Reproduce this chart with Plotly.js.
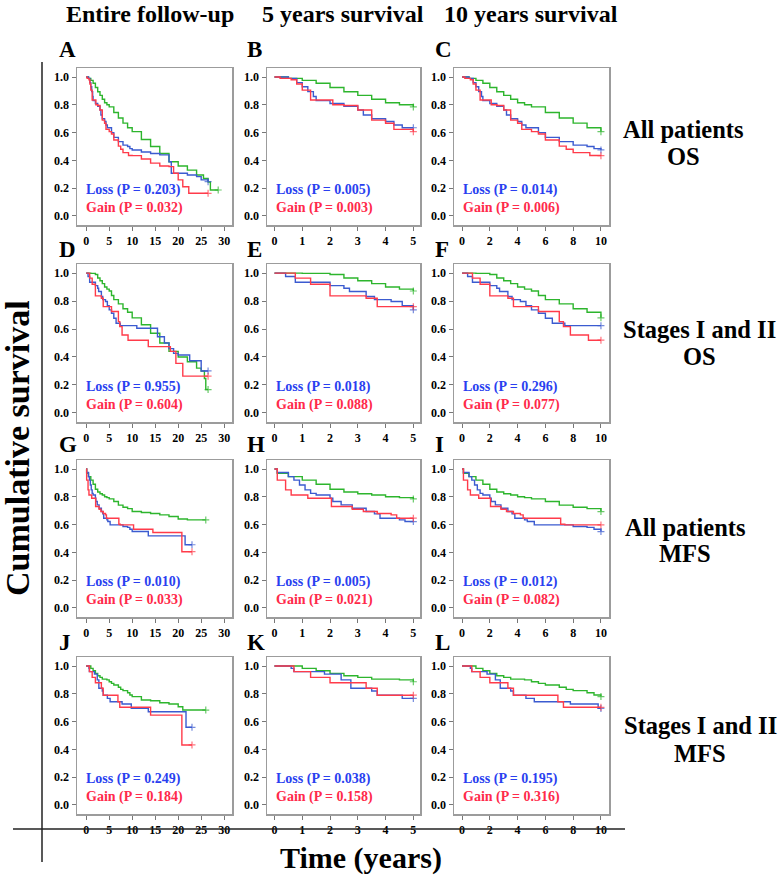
<!DOCTYPE html>
<html>
<head>
<meta charset="utf-8">
<script src="https://cdn.plot.ly/plotly-3.0.1.min.js"></script>
<style>
  body { margin: 0; background: #fff; }
  #chart { width: 778px; height: 876px; }
</style>
</head>
<body>
<div id="chart"></div>
<script>
/* ---- Kaplan-Meier curves (time in years, cumulative survival) ---- */

// All patients, OS
var osAllNeuT  = [0,0.5,1,1.5,2,2.5,3,3.5,4,4.5,5,6,7,8,9,10,12,14,16,18,20,22,24,25.5,26.5,27,28.7];
var osAllNeuS  = [1,0.99,0.976,0.955,0.925,0.894,0.868,0.84,0.815,0.80,0.785,0.745,0.705,0.668,0.635,0.607,0.55,0.50,0.45,0.39,0.36,0.33,0.295,0.27,0.245,0.187,0.187];
var osAllLossT = [0,0.3,0.5,0.8,1,1.2,1.4,1.5,2,2.5,3,3.2,3.5,4,4.3,4.6,5,5.5,6,7,8,9,9.5,10,12,14,16,18,18.5,22,24,25,26.5];
var osAllLossS = [1,1,0.99,0.96,0.93,0.895,0.86,0.83,0.81,0.79,0.763,0.727,0.70,0.68,0.655,0.635,0.635,0.60,0.566,0.535,0.51,0.50,0.485,0.475,0.46,0.45,0.44,0.39,0.307,0.295,0.283,0.26,0.247];
var osAllGainT = [0,0.2,0.6,0.8,1,1.3,2,2.1,2.5,3,3.5,4,4.3,5,5.5,6,7,7.5,8,9.2,10,12,14,16,18,19,20,21,22.3,26.5];
var osAllGainS = [1,0.99,0.98,0.95,0.906,0.835,0.835,0.80,0.795,0.763,0.69,0.667,0.623,0.607,0.59,0.547,0.503,0.48,0.456,0.435,0.434,0.41,0.38,0.36,0.355,0.307,0.26,0.21,0.163,0.163];

// Stages I and II, OS
var osStgNeuT  = [0,1,2,2.5,3,3.5,4,4.5,5,5.5,6,7,8,9,10,12,14,16,18,20,22,24,25,25.7,26,26.5];
var osStgNeuS  = [1,0.998,0.99,0.965,0.945,0.925,0.9,0.885,0.872,0.84,0.81,0.78,0.745,0.72,0.68,0.63,0.57,0.50,0.44,0.40,0.366,0.32,0.30,0.246,0.167,0.167];
var osStgLossT = [0,0.4,0.75,2,2.5,2.7,3.3,3.6,4.2,4.6,5,5.5,6,6.5,7.4,10,11,15,15.5,17,18,19,20,22.5,25,26.5];
var osStgLossS = [1,0.976,0.935,0.91,0.892,0.868,0.833,0.81,0.797,0.766,0.737,0.713,0.677,0.641,0.624,0.624,0.605,0.605,0.545,0.50,0.46,0.426,0.414,0.373,0.30,0.30];
var osStgGainT = [0,0.75,1.3,2,3.3,3.7,5,5.5,7,7.3,7.8,9.1,10,13.5,18.3,19.5,21,26.5];
var osStgGainS = [1,0.964,0.92,0.837,0.82,0.76,0.76,0.725,0.653,0.617,0.557,0.52,0.52,0.474,0.44,0.354,0.263,0.263];

// All patients, MFS
var mfsAllNeuT  = [0,0.1,0.5,1,1.5,2,2.5,3,3.5,4,4.5,5,6,7,8,9,10,12,14,16,18,20,22,26];
var mfsAllNeuS  = [1,0.97,0.945,0.92,0.89,0.854,0.835,0.822,0.813,0.80,0.794,0.785,0.766,0.74,0.725,0.715,0.694,0.687,0.68,0.67,0.658,0.64,0.634,0.634];
var mfsAllLossT = [0,0.1,0.5,0.7,0.9,1.1,1.3,1.5,2,2.1,2.4,2.8,3.3,3.6,3.8,4.5,4.7,5,5.2,8,9,9.5,10,13.5,21.5,23];
var mfsAllLossS = [1,0.975,0.945,0.92,0.885,0.85,0.825,0.813,0.79,0.766,0.742,0.718,0.694,0.677,0.646,0.634,0.622,0.622,0.598,0.586,0.58,0.567,0.55,0.519,0.455,0.455];
var mfsAllGainT = [0,0.1,0.4,0.6,1.2,2.05,2.8,3.2,3.7,4.2,4.4,5,7.1,7.4,10,10.3,14.5,20.8,23];
var mfsAllGainS = [1,0.92,0.85,0.813,0.79,0.73,0.71,0.694,0.68,0.67,0.646,0.646,0.603,0.598,0.598,0.567,0.543,0.405,0.405];

// Stages I and II, MFS
var mfsStgNeuT  = [0,0.7,1,1.5,2,2.5,3,3.5,4.5,5,5.5,6,7,7.5,8,9,9.5,10,12,14,16,18,20,21,26];
var mfsStgNeuS  = [1,1,0.983,0.966,0.947,0.93,0.918,0.906,0.9,0.887,0.875,0.863,0.847,0.832,0.823,0.808,0.791,0.78,0.755,0.75,0.736,0.727,0.707,0.683,0.683];
var mfsStgLossT = [0,0.6,0.7,1.8,2.4,2.75,3.5,3.7,4.6,5,5.2,7.8,9.8,10,13.5,21.7,23];
var mfsStgLossS = [1,0.983,0.96,0.942,0.9,0.84,0.82,0.79,0.767,0.767,0.743,0.727,0.695,0.695,0.671,0.559,0.559];
var mfsStgGainT = [0,0.7,1.3,2,3.3,3.7,5,6.9,7.3,10,14,20.8,23];
var mfsStgGainS = [1,0.96,0.918,0.88,0.84,0.79,0.79,0.743,0.703,0.703,0.647,0.432,0.432];

// P values, panels A..L
var panelLetters = ['A','B','C','D','E','F','G','H','I','J','K','L'];
var lossP = ['0.203','0.005','0.014','0.955','0.018','0.296','0.010','0.005','0.012','0.249','0.038','0.195'];
var gainP = ['0.032','0.003','0.006','0.604','0.088','0.077','0.033','0.021','0.082','0.184','0.158','0.316'];

var colTitles = ['Entire follow-up', '5 years survival', '10 years survival'];
var rowTitles = [['All patients','OS'], ['Stages I and II','OS'], ['All patients','MFS'], ['Stages I and II','MFS']];
var survTicks = [0, 0.2, 0.4, 0.6, 0.8, 1.0];
var timeTicks = [[0,5,10,15,20,25,30], [0,1,2,3,4,5], [0,2,4,6,8,10]];

/* ---- layout constants (pixels) ---- */
var W = 778, H = 876;
var FONT = 'Liberation Serif, Times New Roman, serif';
var colPx = [[77,232],[267,420],[454,609]];
var rowPx = [[68,225],[264,422],[460,617],[657,814]];
var colRange = [[-2,31.7],[-0.27,5.24],[-0.58,10.58]];
var colLimit = [1000,5,10];
var colTitleX = [150,343,531];
var letterX = [57,245,433];
var letterY = [50,250,445,642];
var rowTitleX = [683,699,685,700];
var rowTitleY = [[130,157],[329,357],[527,553],[725,753]];

var C_NEU = '#2db52d', C_LOSS = '#3b5bd0', C_GAIN = '#ff3b4a';
var T_LOSS = '#2a3ff0', T_GAIN = '#ff2a4a';

var rows = [
  [[osAllNeuT,osAllNeuS],[osAllLossT,osAllLossS],[osAllGainT,osAllGainS]],
  [[osStgNeuT,osStgNeuS],[osStgLossT,osStgLossS],[osStgGainT,osStgGainS]],
  [[mfsAllNeuT,mfsAllNeuS],[mfsAllLossT,mfsAllLossS],[mfsAllGainT,mfsAllGainS]],
  [[mfsStgNeuT,mfsStgNeuS],[mfsStgLossT,mfsStgLossS],[mfsStgGainT,mfsStgGainS]]
];
var lineColors = [C_NEU, C_LOSS, C_GAIN];

function px2x(p) { return p / W; }
function px2y(p) { return 1 - p / H; }
function boldLabels(vals, digits) {
  return vals.map(function(v) { return '<b>' + (digits ? v.toFixed(digits) : String(v)) + '</b>'; });
}

var traces = [];
var layout = {
  width: W, height: H,
  margin: { l: 0, r: 0, t: 0, b: 0 },
  paper_bgcolor: '#fff', plot_bgcolor: '#fff',
  showlegend: false,
  annotations: [],
  shapes: []
};

var tickFont = { family: FONT, size: 12, color: '#000' };

for (var r = 0; r < 4; r++) {
  for (var c = 0; c < 3; c++) {
    var idx = r * 3 + c + 1;
    var xn = 'x' + (idx > 1 ? idx : '');
    var yn = 'y' + (idx > 1 ? idx : '');
    var lim = colLimit[c];

    // green first, then blue, red on top
    rows[r].forEach(function(series, k) {
      var t = [], s = [];
      for (var i = 0; i < series[0].length; i++) {
        if (series[0][i] <= lim) { t.push(series[0][i]); s.push(series[1][i]); }
      }
      // censor cross only at the end of each curve
      var sizes = t.map(function(_, i) { return i === t.length - 1 ? 5 : 0; });
      traces.push({
        x: t, y: s, xaxis: xn, yaxis: yn,
        type: 'scatter', mode: 'lines+markers',
        line: { color: lineColors[k], width: 1.4, shape: 'hv' },
        marker: { symbol: 'cross-thin', size: sizes, line: { color: lineColors[k], width: 1.2 } },
        hoverinfo: 'skip'
      });
    });

    layout['xaxis' + (idx > 1 ? idx : '')] = {
      domain: [px2x(colPx[c][0]), px2x(colPx[c][1])],
      range: colRange[c], anchor: yn,
      tickvals: timeTicks[c], ticktext: boldLabels(timeTicks[c], 0),
      showline: true, mirror: true, linecolor: '#9c9c9c', linewidth: 1.5,
      ticks: 'outside', ticklen: 4, tickwidth: 1, tickcolor: '#777',
      showgrid: false, zeroline: false, tickfont: tickFont
    };
    layout['yaxis' + (idx > 1 ? idx : '')] = {
      domain: [px2y(rowPx[r][1]), px2y(rowPx[r][0])],
      range: [-0.065, 1.065], anchor: xn,
      tickvals: survTicks, ticktext: boldLabels(survTicks, 1),
      showline: true, mirror: true, linecolor: '#9c9c9c', linewidth: 1.5,
      ticks: 'outside', ticklen: 4, tickwidth: 1, tickcolor: '#777',
      showgrid: false, zeroline: false, tickfont: tickFont
    };

    layout.annotations.push({
      xref: xn + ' domain', yref: yn, x: 0.045, y: 0.185, xanchor: 'left', yanchor: 'middle',
      text: '<b>Loss (P = ' + lossP[idx - 1] + ')</b>', showarrow: false,
      font: { family: FONT, size: 14, color: T_LOSS }
    });
    layout.annotations.push({
      xref: xn + ' domain', yref: yn, x: 0.045, y: 0.06, xanchor: 'left', yanchor: 'middle',
      text: '<b>Gain (P = ' + gainP[idx - 1] + ')</b>', showarrow: false,
      font: { family: FONT, size: 14, color: T_GAIN }
    });
    layout.annotations.push({
      xref: 'paper', yref: 'paper', x: px2x(letterX[c]), y: px2y(letterY[r]),
      xanchor: 'left', yanchor: 'middle', text: '<b>' + panelLetters[idx - 1] + '</b>', showarrow: false,
      font: { family: FONT, size: 23, color: '#000' }
    });
  }
}

colTitles.forEach(function(txt, c) {
  layout.annotations.push({
    xref: 'paper', yref: 'paper', x: px2x(colTitleX[c]), y: px2y(14),
    xanchor: 'center', yanchor: 'middle', text: '<b>' + txt + '</b>', showarrow: false,
    font: { family: FONT, size: 24, color: '#000' }
  });
});

rowTitles.forEach(function(lines, r) {
  lines.forEach(function(txt, j) {
    layout.annotations.push({
      xref: 'paper', yref: 'paper', x: px2x(rowTitleX[r]), y: px2y(rowTitleY[r][j]),
      xanchor: 'center', yanchor: 'middle', text: '<b>' + txt + '</b>', showarrow: false,
      font: { family: FONT, size: 24.5, color: '#000' }
    });
  });
});

layout.annotations.push({
  xref: 'paper', yref: 'paper', x: px2x(17), y: px2y(448), textangle: -90,
  xanchor: 'center', yanchor: 'middle', text: '<b>Cumulative survival</b>', showarrow: false,
  font: { family: FONT, size: 34, color: '#000' }
});
layout.annotations.push({
  xref: 'paper', yref: 'paper', x: px2x(361), y: px2y(858),
  xanchor: 'center', yanchor: 'middle', text: '<b>Time (years)</b>', showarrow: false,
  font: { family: FONT, size: 30, color: '#000' }
});

// frame lines around the shared axis titles
layout.shapes.push({ type: 'line', xref: 'paper', yref: 'paper',
  x0: px2x(42), x1: px2x(42), y0: px2y(62), y1: px2y(862), line: { color: '#222', width: 1.5 } });
layout.shapes.push({ type: 'line', xref: 'paper', yref: 'paper',
  x0: px2x(13), x1: px2x(625), y0: px2y(829), y1: px2y(829), line: { color: '#222', width: 1.5 } });

Plotly.newPlot('chart', traces, layout, { displayModeBar: false, staticPlot: true });
</script>
</body>
</html>
